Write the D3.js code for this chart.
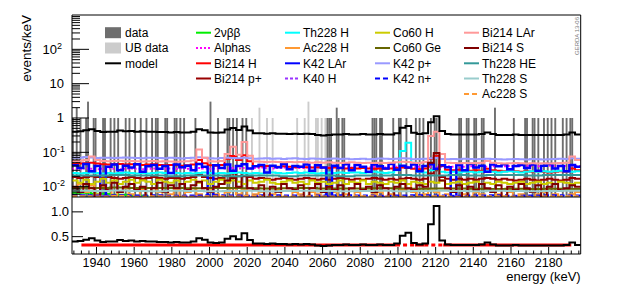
<!DOCTYPE html>
<html>
<head>
<meta charset="utf-8">
<script src="https://cdnjs.cloudflare.com/ajax/libs/d3/7.8.5/d3.min.js"></script>
<style>
  body { margin: 0; background: #fff; }
  svg text { font-family: "Liberation Sans", Arial, Helvetica, sans-serif; }
</style>
</head>
<body>
<svg id="svgid" width="623" height="291"></svg>
<script>
// energy window of all histograms (keV)
var eMin = 1927, eMax = 2197;

// observed events, 1 keV bins: lower edge + counts
var dataE = [1927,1929,1931,1934,1935,1938,1939,1943,1944,1947,1949,1951,1955,1957,1960,1963,1966,1969,1971,1972,
             1976,1977,1981,1982,1984,1986,1992,2000,2004,2009,2010,2012,2014,2017,2019,2062,2063,2064,2067,2068,
             2070,2071,2086,2087,2088,2090,2091,2097,2100,2101,2104,2109,2111,2113,2117,2119,2120,2132,2133,2136,
             2137,2140,2141,2144,2145,2151,2161,2167,2168,2171,2172,2174,2177,2179,2181,2183,2187,2189,2191,2192];
var dataN = [1,2,1,1,3,1,1,1,1,1,1,1,1,1,1,1,1,1,1,1,
             1,1,1,1,1,1,1,3,1,1,1,1,1,1,1,1,1,1,2,1,
             1,1,1,1,1,1,1,1,1,1,1,1,1,1,1,1,1,1,1,1,
             1,1,1,1,1,2,1,1,1,1,1,1,1,1,1,1,1,1,1,1];
var ubE = [2022,2026,2030,2033,2046,2050,2052,2056,2057,2059,2061];
var ubN = [1,2,1,1,1,1,3,1,1,1,1];

// model sum, 3 keV bins
var model = [0.40,0.41,0.44,0.47,0.42,0.39,0.40,0.40,0.43,0.41,
             0.42,0.40,0.41,0.40,0.40,0.39,0.39,0.38,0.39,0.38,
             0.38,0.40,0.47,0.44,0.38,0.37,0.38,0.46,0.51,0.45,
             0.57,0.43,0.36,0.36,0.35,0.36,0.35,0.35,0.34,0.35,
             0.34,0.35,0.34,0.32,0.31,0.32,0.33,0.33,0.34,0.33,
             0.33,0.34,0.33,0.33,0.34,0.33,0.33,0.36,0.52,0.58,
             0.37,0.34,0.36,0.75,1.12,0.42,0.34,0.33,0.33,0.33,
             0.33,0.33,0.34,0.38,0.34,0.32,0.32,0.32,0.33,0.32,
             0.32,0.32,0.32,0.32,0.32,0.32,0.32,0.33,0.38,0.33];

// components (3 keV bins unless noted)
var twoNu = [0.0066,0.0062,0.0058,0.0054,0.0050,0.0046,0.0042,0.0038,0.0034,0.0030,0.0026,0.0022,0,0,0,0,0,0,0,0,0,0,0,0,0,0,0]; // 10 keV
var alphas = [0.033,0.032,0.034,0.033,0.032,0.033,0.034,0.033,0.032,0.033,
              0.034,0.033,0.032,0.033,0.034,0.033,0.033,0.034,0.033,0.034,
              0.033,0.034,0.035,0.034,0.033,0.034,0.035,0.034,0.035,0.034,
              0.035,0.034,0.035,0.036,0.035,0.034,0.035,0.036,0.035,0.036,
              0.035,0.036,0.037,0.036,0.035,0.036,0.037,0.036,0.037,0.036,
              0.037,0.036,0.037,0.038,0.037,0.036,0.037,0.038,0.037,0.038,
              0.037,0.038,0.039,0.038,0.037,0.038,0.039,0.038,0.039,0.038,
              0.039,0.040,0.039,0.038,0.039,0.040,0.039,0.040,0.039,0.040,
              0.041,0.040,0.039,0.040,0.041,0.040,0.041,0.040,0.041,0.040];
var bi214H = [0.046,0.047,0.048,0.050,0.047,0.045,0.044,0.045,0.046,0.044,
              0.045,0.044,0.043,0.044,0.045,0.043,0.042,0.043,0.042,0.041,
              0.042,0.044,0.060,0.048,0.042,0.041,0.043,0.065,0.078,0.060,
              0.082,0.055,0.040,0.039,0.040,0.039,0.038,0.039,0.038,0.037,
              0.038,0.037,0.036,0.037,0.036,0.035,0.036,0.035,0.034,0.035,
              0.034,0.035,0.034,0.033,0.034,0.033,0.034,0.035,0.036,0.035,
              0.033,0.032,0.034,0.065,0.080,0.040,0.031,0.030,0.031,0.030,
              0.029,0.030,0.029,0.033,0.030,0.029,0.028,0.029,0.028,0.027,
              0.028,0.027,0.028,0.027,0.026,0.027,0.028,0.027,0.034,0.030];
var bi214P = [0.019,0.018,0.019,0.020,0.019,0.018,0.019,0.018,0.017,0.018,
              0.019,0.018,0.017,0.018,0.019,0.018,0.017,0.018,0.018,0.017,
              0.018,0.019,0.022,0.019,0.018,0.017,0.018,0.021,0.024,0.020,
              0.025,0.019,0.017,0.018,0.017,0.016,0.017,0.018,0.017,0.016,
              0.017,0.018,0.017,0.016,0.017,0.016,0.017,0.018,0.017,0.016,
              0.017,0.016,0.017,0.018,0.017,0.016,0.017,0.016,0.017,0.018,
              0.017,0.016,0.017,0.024,0.030,0.019,0.017,0.016,0.017,0.016,
              0.017,0.016,0.017,0.018,0.017,0.016,0.017,0.016,0.015,0.016,
              0.017,0.016,0.015,0.016,0.017,0.016,0.015,0.016,0.018,0.017];
var th228H = [0.025,0.024,0.025,0.026,0.025,0.024,0.025,0.024,0.025,0.026,
              0.025,0.024,0.025,0.024,0.025,0.026,0.025,0.024,0.025,0.024,
              0.025,0.024,0.025,0.026,0.025,0.024,0.025,0.024,0.025,0.026,
              0.025,0.024,0.025,0.024,0.025,0.026,0.025,0.024,0.025,0.026,
              0.025,0.026,0.025,0.024,0.025,0.026,0.025,0.026,0.025,0.026,
              0.026,0.025,0.026,0.027,0.026,0.025,0.026,0.030,0.110,0.190,
              0.050,0.027,0.026,0.030,0.032,0.027,0.026,0.027,0.026,0.027,
              0.027,0.026,0.027,0.028,0.027,0.026,0.027,0.028,0.027,0.026,
              0.027,0.028,0.027,0.028,0.027,0.028,0.029,0.028,0.027,0.028];
var ac228H = [0.009,0.012,0.007,0.011,0.006,0.010,0.008,0,0.007,0.009,
              0.006,0,0.008,0.005,0.009,0.007,0,0.006,0.008,0,
              0.007,0.009,0.006,0,0.008,0.006,0,0.007,0.009,0.006,
              0.008,0,0.006,0.007,0,0.006,0.008,0.005,0,0.007,
              0.006,0,0.007,0.006,0,0.005,0.007,0,0.006,0,
              0.007,0.005,0,0.006,0.007,0,0.006,0,0.008,0.012,
              0.007,0,0.006,0.008,0.007,0,0.006,0.005,0,0.006,
              0,0.007,0.006,0,0.005,0.006,0,0.007,0,0.006,
              0.005,0,0.006,0.007,0,0.006,0.005,0,0.006,0.007];
var k42LAr = [0.042,0.035,0.046,0.028,0.040,0,0.038,0.044,0.030,0.041,
              0.036,0.045,0.027,0.039,0.043,0.033,0.040,0.025,0.044,0.037,
              0.041,0.030,0.046,0.038,0,0.042,0.035,0.044,0.029,0.040,
              0.045,0.034,0.039,0.043,0.026,0.041,0.037,0.046,0.032,0.040,
              0.038,0.044,0.029,0.042,0.036,0,0.041,0.035,0.045,0.030,
              0.043,0.038,0.027,0.044,0.039,0.034,0.046,0.031,0.041,0.036,
              0.044,0.028,0.040,0.045,0.033,0.042,0.037,0,0.043,0.030,
              0.046,0.036,0.041,0.027,0.044,0.039,0.045,0.032,0.040,0.043,
              0.035,0.044,0.029,0.041,0.046,0.034,0.040,0.028,0.043,0.038];
var k40H = [0.0049,0.0052,0.0048,0.0051,0.0047,0.0050,0.0052,0.0048,0.0049,0.0051,0.0047,0.0050,0.0048,0.0052,
            0.0049,0.0047,0.0051,0.0048,0.0050,0.0049,0.0052,0.0048,0.0050,0.0047,0.0051,0.0049,0.0050]; // 10 keV
var co60H = [0.015,0.013,0.016,0.012,0.014,0.017,0.013,0.015,0.012,0.014,
             0.016,0.013,0.015,0.014,0.012,0.016,0.014,0.013,0.015,0.012,
             0.014,0.016,0.013,0.015,0.012,0.014,0.016,0.013,0.015,0.014,
             0.012,0.015,0.013,0.014,0.016,0.013,0.012,0.014,0.015,0.013,
             0.014,0.012,0.015,0.013,0.014,0.012,0.013,0.015,0.012,0.014,
             0.013,0.015,0.012,0.014,0.013,0.012,0.014,0.013,0.015,0.012,
             0.014,0.013,0.012,0.014,0.013,0.015,0.012,0.013,0.014,0.012,
             0.013,0.014,0.012,0.013,0.012,0.014,0.013,0.012,0.013,0.014,
             0.012,0.013,0.014,0.012,0.013,0.012,0.014,0.013,0.012,0.013];
var co60Ge = [0.0093,0.0092,0.0094,0.0092,0.0091,0.0092,0.0090,0.0091,0.0092,0.0090,0.0089,0.0090,0.0091,0.0089,
              0.0088,0.0089,0.0090,0.0088,0.0087,0.0088,0.0089,0.0087,0.0086,0.0087,0.0086,0.0087,0.0086]; // 10 keV
var k42p = [0.069,0.070,0.073,0.071,0.068,0.069,0.070,0.068,0.069,0.071,
            0.070,0.068,0.067,0.069,0.070,0.068,0.067,0.069,0.068,0.066,
            0.068,0.069,0.072,0.069,0.067,0.066,0.068,0.070,0.068,0.067,
            0.069,0.067,0.065,0.066,0.067,0.065,0.066,0.064,0.066,0.067,
            0.065,0.064,0.066,0.065,0.064,0.065,0.066,0.064,0.065,0.063,
            0.064,0.065,0.063,0.064,0.066,0.065,0.064,0.065,0.067,0.066,
            0.063,0.064,0.065,0.067,0.068,0.064,0.063,0.064,0.063,0.065,
            0.064,0.063,0.064,0.065,0.064,0.063,0.062,0.063,0.064,0.063,
            0.062,0.064,0.063,0.062,0.063,0.064,0.065,0.064,0.067,0.065];
var k42n = [0.0056,0.0055,0.0057,0.0055,0.0056,0.0054,0.0055,0.0056,0.0055,0.0054,0.0056,0.0055,0.0054,0.0055,
            0.0056,0.0055,0.0054,0.0055,0.0056,0.0055,0.0054,0.0055,0.0056,0.0054,0.0055,0.0056,0.0055]; // 10 keV
var bi214LAr = [0.056,0.057,0.060,0.075,0.060,0.056,0.055,0.056,0.057,0.055,
                0.056,0.055,0.054,0.055,0.056,0.054,0.055,0.054,0.053,0.054,
                0.055,0.058,0.120,0.070,0.055,0.054,0.056,0.090,0.145,0.085,
                0.200,0.080,0.054,0.053,0.052,0.053,0.052,0.051,0.052,0.051,
                0.052,0.051,0.050,0.051,0.050,0.051,0.050,0.049,0.050,0.051,
                0.050,0.049,0.050,0.049,0.050,0.049,0.050,0.051,0.053,0.052,
                0.050,0.049,0.052,0.300,0.400,0.090,0.050,0.049,0.048,0.049,
                0.048,0.049,0.050,0.056,0.050,0.048,0.047,0.048,0.049,0.048,
                0.047,0.048,0.047,0.048,0.047,0.048,0.049,0.050,0.075,0.060];
var bi214S = [0.010,0.007,0.012,0.009,0,0.011,0.008,0.013,0.007,0.010,
              0.012,0.008,0.010,0,0.009,0.013,0.007,0.011,0.009,0.012,
              0.008,0.011,0.014,0.009,0.007,0.010,0.012,0.015,0.018,0.010,
              0.020,0.009,0.008,0.011,0,0.010,0.007,0.012,0.009,0.008,
              0.011,0,0.009,0.012,0.007,0.010,0.008,0.011,0,0.009,
              0.012,0.008,0.010,0.007,0.011,0.009,0,0.010,0.012,0.009,
              0.008,0.011,0.010,0.050,0.095,0.015,0.009,0.007,0.011,0,
              0.010,0.008,0.012,0.009,0.007,0.011,0,0.010,0.008,0.012,
              0.009,0.007,0.011,0,0.010,0.012,0.008,0.009,0.011,0.010];
var th228HE = [0.021,0.021,0.022,0.021,0.021,0.020,0.021,0.021,0.020,0.021,0.021,0.020,0.021,0.021,
               0.020,0.021,0.021,0.022,0.021,0.021,0.022,0.021,0.022,0.022,0.021,0.022,0.022]; // 10 keV
var th228S = [0.0076,0.0075,0.0077,0.0075,0.0074,0.0076,0.0075,0.0074,0.0075,0.0076,0.0074,0.0075,0.0076,0.0075,
              0.0074,0.0075,0.0076,0.0074,0.0075,0.0076,0.0075,0.0074,0.0076,0.0075,0.0074,0.0075,0.0076]; // 10 keV
var ac228S = [0.0053,0.0052,0.0054,0.0051,0.0053,0.0052,0.0051,0.0053,0.0052,0.0054,0.0051,0.0052,0.0053,0.0052,
              0.0051,0.0053,0.0052,0.0051,0.0052,0.0053,0.0051,0.0052,0.0053,0.0052,0.0051,0.0052,0.0053]; // 10 keV

// flat background fit in lower panel
var fitLevel = 0.33;
var fitFrom = [1932, 2099, 2109, 2114, 2124], fitTo = [2099, 2109, 2114, 2124, 2192], fitDashed = [0, 1, 0, 1, 0];

var yTicksTop = [0.01, 0.1, 1, 10, 100];
var yTicksBot = [0.5, 1.0];
var xTicks = d3.range(1940, 2181, 20);

// legend order = drawing order
var comps = [
    { name: "2νββ",     color: "#00ee00", dash: null,  bin: 10, vals: twoNu },
    { name: "Alphas",   color: "#ff00ff", dash: "2,2", bin: 3,  vals: alphas },
    { name: "Bi214 H",  color: "#ff0000", dash: null,  bin: 3,  vals: bi214H },
    { name: "Bi214 p+", color: "#990000", dash: null,  bin: 3,  vals: bi214P },
    { name: "Th228 H",  color: "#00ffff", dash: null,  bin: 3,  vals: th228H },
    { name: "Ac228 H",  color: "#ff9933", dash: null,  bin: 3,  vals: ac228H },
    { name: "K42 LAr",  color: "#0000ff", dash: null,  bin: 3,  vals: k42LAr },
    { name: "K40 H",    color: "#9933ff", dash: "3,2", bin: 10, vals: k40H },
    { name: "Co60 H",   color: "#cccc00", dash: null,  bin: 3,  vals: co60H },
    { name: "Co60 Ge",  color: "#666600", dash: null,  bin: 10, vals: co60Ge },
    { name: "K42 p+",   color: "#9999ff", dash: null,  bin: 3,  vals: k42p },
    { name: "K42 n+",   color: "#0000ff", dash: "5,3", bin: 10, vals: k42n },
    { name: "Bi214 LAr",color: "#ff9999", dash: null,  bin: 3,  vals: bi214LAr },
    { name: "Bi214 S",  color: "#800000", dash: null,  bin: 3,  vals: bi214S },
    { name: "Th228 HE", color: "#339999", dash: null,  bin: 10, vals: th228HE },
    { name: "Th228 S",  color: "#99cccc", dash: null,  bin: 10, vals: th228S },
    { name: "Ac228 S",  color: "#ff9933", dash: "5,3", bin: 10, vals: ac228S }
];

var svg = d3.select("#svgid"),
    L = 72, R = 580.7, T1 = 15, B1 = 197, B2 = 254,
    x = d3.scaleLinear().domain([eMin, eMax]).range([L, R]),
    yTop = d3.scaleLog().domain([0.005, 1000]).range([B1, T1]),
    yBot = d3.scaleLinear().domain([0.15, 1.3]).range([B2, B1]);

svg.append("defs").append("clipPath").attr("id", "clipTop").append("rect")
    .attr("x", L).attr("y", T1).attr("width", R - L).attr("height", B1 - T1);
svg.select("defs").append("clipPath").attr("id", "clipBot").append("rect")
    .attr("x", L).attr("y", B1).attr("width", R - L).attr("height", B2 - B1);

var histPoints = function (vals, bin) {
    var pts = vals.map(function (v, i) { return [eMin + i * bin, v]; });
    pts.push([eMin + vals.length * bin, vals[vals.length - 1]]);
    return pts;
};
var topLine = d3.line().curve(d3.curveStepAfter)
    .x(function (d) { return x(d[0]); })
    .y(function (d) { return d[1] > 0.005 ? yTop(d[1]) : B1 + 4; });
var botLine = d3.line().curve(d3.curveStepAfter)
    .x(function (d) { return x(d[0]); })
    .y(function (d) { return yBot(d[1]); });

// ---- top panel
var gTop = svg.append("g").attr("clip-path", "url(#clipTop)");

var drawBars = function (es, ns, color) {
    gTop.selectAll(null).data(d3.zip(es, ns)).enter().append("rect")
        .attr("x", function (d) { return x(d[0]); })
        .attr("width", function (d) { return x(d[0] + 1) - x(d[0]); })
        .attr("y", function (d) { return yTop(d[1]); })
        .attr("height", function (d) { return B1 - yTop(d[1]); })
        .attr("fill", color);
};
drawBars(dataE, dataN, "#6e6e6e");
drawBars(ubE, ubN, "#cccccc");

comps.forEach(function (c) {
    gTop.append("path")
        .attr("d", topLine(histPoints(c.vals, c.bin)))
        .attr("fill", "none")
        .attr("stroke", c.color)
        .attr("stroke-width", c.name === "K42 LAr" ? 2.5 : 2)
        .attr("stroke-dasharray", c.dash);
});
gTop.append("path")
    .attr("d", topLine(histPoints(model, 3)))
    .attr("style", "fill:none;stroke:black;stroke-width:2");

// frame + log axis
svg.append("path").attr("d", "M" + L + "," + B1 + "V" + T1 + "H" + R + "V" + B2)
    .attr("style", "fill:none;stroke:black;stroke-width:1");
svg.append("line").attr("x1", L).attr("x2", R).attr("y1", B1).attr("y2", B1)
    .attr("style", "stroke:black;stroke-width:1");

var minor = [];
for (var d = -3; d <= 2; ++d) {
    for (var k = 2; k <= 9; ++k) {
        var v = k * Math.pow(10, d);
        if (v > 0.005 && v < 1000) minor.push(v);
    }
}
svg.selectAll(null).data(minor).enter().append("line")
    .attr("x1", L).attr("x2", L + 8)
    .attr("y1", function (v) { return yTop(v); }).attr("y2", function (v) { return yTop(v); })
    .attr("style", "stroke:black;stroke-width:1");
svg.selectAll(null).data(yTicksTop).enter().append("line")
    .attr("x1", L).attr("x2", L + 17)
    .attr("y1", function (v) { return yTop(v); }).attr("y2", function (v) { return yTop(v); })
    .attr("style", "stroke:black;stroke-width:1");

yTicksTop.forEach(function (v) {
    var yy = yTop(v) + 4.5,
        ex = Math.round(Math.log10(v)),
        t;
    if (ex === 0 || ex === 1) {
        svg.append("text").attr("x", 64).attr("y", yy).attr("text-anchor", "end")
            .attr("font-size", 13).text(ex === 0 ? "1" : "10");
    } else {
        t = svg.append("text").attr("x", 42.5).attr("y", yy).attr("font-size", 13);
        t.append("tspan").text("10");
        t.append("tspan").attr("dy", -5).attr("font-size", 9).text(ex);
    }
});

svg.append("text")
    .attr("transform", "translate(31," + T1 + ") rotate(-90)")
    .attr("text-anchor", "end").attr("font-size", 13.5)
    .text("events/keV");

svg.append("text")
    .attr("transform", "translate(579,55) rotate(-90)")
    .attr("font-size", 6).attr("fill", "#777")
    .text("GERDA 13-06");

// ---- legend
var legX = [105, 196, 285, 375, 464],
    legY = [32.7, 48, 63.3, 78.5, 94],
    gLeg = svg.append("g").attr("font-size", 12);

[["data", "#6e6e6e"], ["UB data", "#cccccc"]].forEach(function (e, i) {
    gLeg.append("rect").attr("x", legX[0]).attr("y", legY[i] - 5.5)
        .attr("width", 16).attr("height", 11).attr("fill", e[1]);
    gLeg.append("text").attr("x", legX[0] + 20).attr("y", legY[i] + 4.3).text(e[0]);
});
gLeg.append("line").attr("x1", legX[0]).attr("x2", legX[0] + 16)
    .attr("y1", legY[2]).attr("y2", legY[2]).attr("style", "stroke:black;stroke-width:2");
gLeg.append("text").attr("x", legX[0] + 20).attr("y", legY[2] + 4.3).text("model");

comps.forEach(function (c, i) {
    var col = Math.min(Math.floor(i / 4), 3),
        row = i - 4 * col,
        lx = legX[col + 1];
    gLeg.append("line").attr("x1", lx).attr("x2", lx + 15)
        .attr("y1", legY[row]).attr("y2", legY[row])
        .attr("stroke", c.color).attr("stroke-width", 2)
        .attr("stroke-dasharray", c.dash);
    gLeg.append("text").attr("x", lx + 18).attr("y", legY[row] + 4.3).text(c.name);
});

// ---- bottom panel (linear)
var gBot = svg.append("g").attr("clip-path", "url(#clipBot)");
fitFrom.forEach(function (f, i) {
    gBot.append("line")
        .attr("x1", x(f)).attr("x2", x(fitTo[i]))
        .attr("y1", yBot(fitLevel)).attr("y2", yBot(fitLevel))
        .attr("stroke", "#ff0000").attr("stroke-width", 3)
        .attr("stroke-dasharray", fitDashed[i] ? "4,3" : null);
});
gBot.append("path")
    .attr("d", botLine(histPoints(model, 3)))
    .attr("style", "fill:none;stroke:black;stroke-width:2");

svg.append("line").attr("x1", L).attr("x2", R).attr("y1", B2).attr("y2", B2)
    .attr("style", "stroke:black;stroke-width:1");
svg.append("line").attr("x1", L).attr("x2", L).attr("y1", B1).attr("y2", B2)
    .attr("style", "stroke:black;stroke-width:1");

svg.selectAll(null).data(d3.range(1928, 2197, 4)).enter().append("line")
    .attr("x1", function (e) { return x(e); }).attr("x2", function (e) { return x(e); })
    .attr("y1", B2).attr("y2", function (e) { return (e % 20 === 0) ? B2 - 7 : B2 - 3.5; })
    .attr("style", "stroke:black;stroke-width:1");
svg.selectAll(null).data(xTicks).enter().append("text")
    .attr("x", function (e) { return x(e); }).attr("y", 267)
    .attr("text-anchor", "middle").attr("font-size", 12.5)
    .text(function (e) { return e; });

svg.selectAll(null).data(yTicksBot).enter().append("line")
    .attr("x1", L).attr("x2", L + 11)
    .attr("y1", function (v) { return yBot(v); }).attr("y2", function (v) { return yBot(v); })
    .attr("style", "stroke:black;stroke-width:1");
svg.selectAll(null).data(yTicksBot).enter().append("text")
    .attr("x", 69).attr("y", function (v) { return yBot(v) + 4.5; })
    .attr("text-anchor", "end").attr("font-size", 13)
    .text(function (v) { return v.toFixed(1); });

svg.append("text").attr("x", R).attr("y", 281)
    .attr("text-anchor", "end").attr("font-size", 13)
    .text("energy (keV)");
</script>
</body>
</html>
